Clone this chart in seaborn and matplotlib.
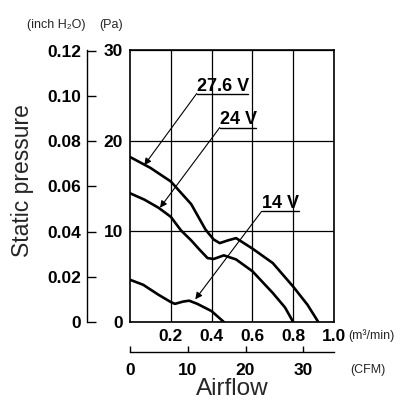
import pandas as pd
import matplotlib
matplotlib.use("Agg")
import matplotlib.pyplot as plt
import seaborn as sns

# ---------------- data ----------------
flow_276 = [0, 0.1, 0.2, 0.3, 0.37, 0.41, 0.44, 0.48, 0.52, 0.6, 0.7, 0.8, 0.87, 0.923]
pres_276 = [18.2, 17.0, 15.5, 13.0, 10.2, 9.1, 8.7, 9.0, 9.25, 8.1, 6.5, 3.9, 1.9, 0]

flow_24 = [0, 0.07, 0.14, 0.2, 0.25, 0.3, 0.34, 0.38, 0.41, 0.46, 0.52, 0.6, 0.7, 0.76, 0.8]
pres_24 = [14.2, 13.5, 12.6, 11.6, 10.1, 9.0, 8.0, 7.05, 6.95, 7.35, 6.9, 5.6, 3.2, 1.6, 0]

flow_14 = [0, 0.065, 0.14, 0.2, 0.22, 0.26, 0.29, 0.33, 0.4, 0.46]
pres_14 = [4.66, 4.1, 3.0, 2.2, 2.0, 2.25, 2.35, 2.0, 1.2, 0]

voltages = ["27.6 V", "24 V", "14 V"]
pa_ticks = [0, 10, 20, 30]
inch_ticks = [0, 0.02, 0.04, 0.06, 0.08, 0.10, 0.12]
inch_labels = ["0", "0.02", "0.04", "0.06", "0.08", "0.10", "0.12"]
m3_ticks = [0.2, 0.4, 0.6, 0.8, 1.0]
cfm_ticks = [0, 10, 20, 30]

# label text position, underline end, arrow tip (data units)
callouts = {
    "27.6 V": dict(text=(0.327, 25.5), line_end=0.58, line_y=25.2, tip=(0.07, 17.3)),
    "24 V": dict(text=(0.44, 21.8), line_end=0.62, line_y=21.45, tip=(0.147, 12.6)),
    "14 V": dict(text=(0.645, 12.55), line_end=0.83, line_y=12.2, tip=(0.32, 2.5)),
}

PA_PER_INCH = 249.09
M3MIN_TO_CFM = 35.3147

df = pd.concat([
    pd.DataFrame({"flow": flow_276, "pressure": pres_276, "voltage": "27.6 V"}),
    pd.DataFrame({"flow": flow_24, "pressure": pres_24, "voltage": "24 V"}),
    pd.DataFrame({"flow": flow_14, "pressure": pres_14, "voltage": "14 V"}),
])

sns.set_theme(style="white")
plt.rcParams["font.family"] = ["Liberation Sans", "DejaVu Sans"]

W, H = 405, 404
fig = plt.figure(figsize=(W / 100, H / 100), dpi=100)
fig.patch.set_facecolor("white")
ax = fig.add_axes([130 / W, 1 - 322 / H, 204 / W, 272 / H])

sns.lineplot(data=df, x="flow", y="pressure", hue="voltage", hue_order=voltages,
             palette=["black"] * 3, linewidth=1.9, sort=False, legend=False,
             estimator=None, ax=ax)

ax.set_xlim(0, 1.0)
ax.set_ylim(0, 30)
ax.set_xlabel("")
ax.set_ylabel("")
for s in ax.spines.values():
    s.set_color("black")
    s.set_linewidth(1.2)

tick_font = dict(fontweight="bold", fontsize=12.5)
ax.set_xticks(m3_ticks)
ax.set_xticklabels([f"{t:.1f}" for t in m3_ticks], **tick_font)
ax.set_yticks(pa_ticks)
ax.set_yticklabels([str(t) for t in pa_ticks], **tick_font)
ax.tick_params(axis="both", length=0, colors="black", pad=5)
ax.grid(True, color="black", linewidth=0.9)

# inch H2O axis on the far left
ax_in = ax.secondary_yaxis(-43 / 204, functions=(lambda p: p / PA_PER_INCH,
                                                 lambda i: i * PA_PER_INCH))
ax_in.set_yticks(inch_ticks)
ax_in.set_yticklabels(inch_labels, **tick_font)
ax_in.tick_params(axis="y", direction="in", length=6.5, width=1.0, pad=4, colors="black")
ax_in.spines["left"].set_linewidth(1.0)
ax_in.spines["left"].set_color("black")

# CFM axis under the plot
ax_cfm = ax.secondary_xaxis(-30 / 272, functions=(lambda m: m * M3MIN_TO_CFM,
                                                  lambda c: c / M3MIN_TO_CFM))
ax_cfm.set_xticks(cfm_ticks)
ax_cfm.set_xticklabels([str(t) for t in cfm_ticks], **tick_font)
ax_cfm.tick_params(axis="x", direction="in", length=4, width=1.0, pad=8, colors="black")
ax_cfm.spines["bottom"].set_linewidth(1.0)
ax_cfm.spines["bottom"].set_color("black")

# voltage callouts
for name in voltages:
    c = callouts[name]
    ax.text(c["text"][0], c["text"][1], name, fontsize=13, fontweight="bold",
            ha="left", va="baseline", color="black")
    ax.plot([c["text"][0], c["line_end"]], [c["line_y"], c["line_y"]],
            color="black", linewidth=1.0, clip_on=False)
    ax.annotate("", xy=c["tip"], xytext=(c["text"][0], c["line_y"]),
                arrowprops=dict(arrowstyle="-|>", color="black", lw=0.8,
                                mutation_scale=10, shrinkA=0, shrinkB=0))

# unit labels and axis titles
fig.text(27 / W, 1 - 25 / H, "(inch H\u2082O)", fontsize=9, ha="left", va="center")
fig.text(99 / W, 1 - 25 / H, "(Pa)", fontsize=9, ha="left", va="center")
fig.text(348 / W, 1 - 336 / H, "(m\u00b3/min)", fontsize=9, ha="left", va="center")
fig.text(350 / W, 1 - 370 / H, "(CFM)", fontsize=9, ha="left", va="center")
fig.text(23 / W, 1 - 181 / H, "Static pressure", fontsize=16.5, rotation=90,
         ha="center", va="center")
fig.text(232 / W, 1 - 389 / H, "Airflow", fontsize=17.5, ha="center", va="center")

fig.savefig("out.png", dpi=100)
